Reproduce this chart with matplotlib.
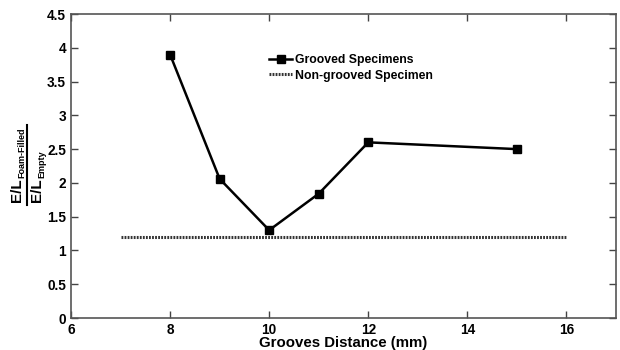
import matplotlib
matplotlib.use("Agg")
import matplotlib.pyplot as plt
from matplotlib.lines import Line2D

plt.rcParams['font.family'] = ['Liberation Sans', 'DejaVu Sans']
plt.rcParams['font.weight'] = 'bold'

grooves_x = [8, 9, 10, 11, 12, 15]
grooves_y = [3.9, 2.06, 1.3, 1.84, 2.6, 2.5]
ref_x = [7, 16]
ref_y = [1.2, 1.2]
xticks = [6, 8, 10, 12, 14, 16]
yticks = [0, 0.5, 1, 1.5, 2, 2.5, 3, 3.5, 4, 4.5]

W, H = 620, 350
fig = plt.figure(figsize=(W/100, H/100), dpi=100)
ax = fig.add_axes([71/W, 1-318/H, (616-71)/W, (318-14)/H])

ax.plot(grooves_x, grooves_y, color='black', lw=1.8, marker='s', ms=6,
        label='Grooved Specimens')
ax.plot(ref_x, ref_y, color='#333333', lw=2.2, linestyle=(0, (0.6, 0.4)),
        label='Non-grooved Specimen')

ax.set_xlim(6, 17)
ax.set_ylim(0, 4.5)
ax.set_xticks(xticks)
ax.set_yticks(yticks)
ax.set_yticklabels(['0', '0.5', '1', '1.5', '2', '2.5', '3', '3.5', '4', '4.5'])
ax.tick_params(direction='in', top=True, right=True, labelsize=9.8,
               length=5, color='#444444', width=1)
for lab in ax.get_xticklabels() + ax.get_yticklabels():
    lab.set_fontweight('bold')
for s in ax.spines.values():
    s.set_color('#555555')
    s.set_linewidth(1.2)

ax.set_xlabel('Grooves Distance (mm)', fontsize=10.8, fontweight='bold')
ax.xaxis.set_label_coords(0.5, -(343 - 318) / (318 - 14))
ax.xaxis.label.set_va('center')

def fy(p):
    return 1 - p / H

# fraction y label (pixel positions)
fig.text(16.5/W, fy(202), 'E/L', rotation=90, fontsize=11, fontweight='bold',
         ha='center', va='bottom')
fig.text(21.5/W, fy(178), 'Foam-Filled', rotation=90, fontsize=6.5, fontweight='bold',
         ha='center', va='bottom')
fig.text(37.5/W, fy(202), 'E/L', rotation=90, fontsize=11, fontweight='bold',
         ha='center', va='bottom')
fig.text(42/W, fy(178), 'Empty', rotation=90, fontsize=6.5, fontweight='bold',
         ha='center', va='bottom')
fig.add_artist(Line2D([26.5/W, 26.5/W], [fy(205), fy(125)], color='black', lw=1.5,
                      transform=fig.transFigure))

leg = ax.legend(loc='upper left', bbox_to_anchor=((264-71)/(616-71), 1-(49-14)/(318-14)),
                frameon=False, fontsize=8.8, handlelength=1.9, handletextpad=0.2,
                labelspacing=0.3, borderaxespad=0)
for t in leg.get_texts():
    t.set_fontweight('bold')

fig.savefig('out.png', dpi=100)
